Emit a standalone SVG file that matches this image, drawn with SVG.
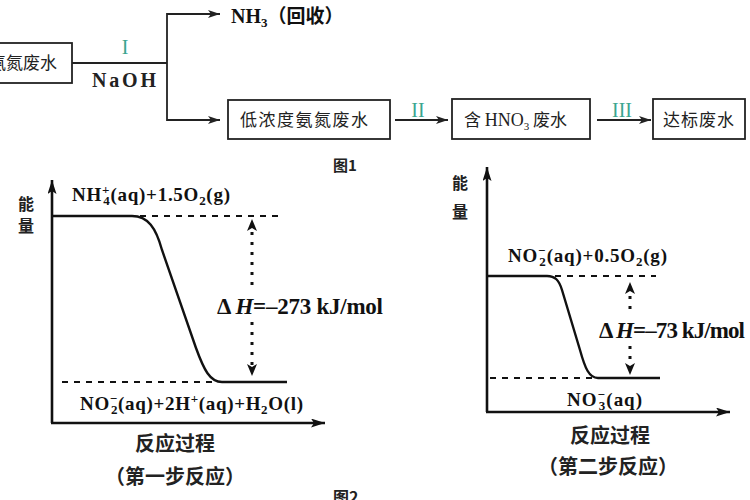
<svg xmlns="http://www.w3.org/2000/svg" width="750" height="500" viewBox="0 0 750 500">
<style>
.box{fill:#fff;stroke:#222;stroke-width:1.8}
.bt{font-family:"Noto Sans CJK SC",sans-serif;font-size:17px;fill:#222}
.ln{stroke:#222;stroke-width:1.8;fill:none}
.rn{font-family:"Liberation Serif",serif;font-size:20px;fill:#3aa58f}
.ax{stroke:#111;stroke-width:2.6;fill:none}
.cv{stroke:#111;stroke-width:2.4;fill:none}
.dash{stroke:#111;stroke-width:2;stroke-dasharray:6 6;fill:none}
.dot{stroke:#111;stroke-width:3;stroke-dasharray:3 7;fill:none}
.ch{font-family:"Liberation Serif",serif;font-weight:bold;font-size:19px;fill:#111}
.dh{font-family:"Liberation Serif",serif;font-weight:bold;font-size:23px;fill:#111}
.cn{font-family:"Noto Sans CJK SC",sans-serif;font-weight:bold;font-size:20px;fill:#222}
.cs{font-family:"Noto Sans CJK SC",sans-serif;font-weight:bold;font-size:16px;fill:#222}
.sub{font-size:13px}
</style>
<defs>
<marker id="ah" viewBox="0 0 12 8" refX="12" refY="4" markerWidth="12" markerHeight="8" markerUnits="userSpaceOnUse" orient="auto">
<path d="M0,0 L12,4 L0,8 L3,4 Z" fill="#222"/>
</marker>
<marker id="axh" viewBox="0 0 14 9" refX="14" refY="4.5" markerWidth="14" markerHeight="9" markerUnits="userSpaceOnUse" orient="auto">
<path d="M0,0 L14,4.5 L0,9 L3,4.5 Z" fill="#111"/>
</marker>
</defs>

<!-- Figure 1 nodes -->
<g id="n-start">
<rect class="box" x="-10" y="43" width="82" height="40"/>
<text class="bt" x="-11" y="69">氨氮废水</text>
</g>
<g id="n-nh3">
<text x="231" y="23" font-family="Liberation Serif,serif" font-weight="bold" font-size="20" fill="#111">NH<tspan font-size="13" dy="4">3</tspan><tspan dy="-4" font-family="Noto Sans CJK SC,sans-serif" font-size="19">（回收）</tspan></text>
</g>
<g id="n-low">
<rect class="box" x="228" y="100" width="162" height="39"/>
<text class="bt" x="240" y="126" letter-spacing="1.5">低浓度氨氮废水</text>
</g>
<g id="n-hno3">
<rect class="box" x="452" y="99" width="138" height="40"/>
<text class="bt" x="464" y="126">含 <tspan font-family="Liberation Serif,serif" font-size="18">HNO<tspan font-size="11" dy="4">3</tspan></tspan><tspan dy="-4"> 废水</tspan></text>
</g>
<g id="n-ok">
<rect class="box" x="653" y="99" width="92" height="40"/>
<text class="bt" x="663" y="126" font-size="18" letter-spacing="1">达标废水</text>
</g>

<!-- Figure 1 connectors -->
<g id="connectors">
<path class="ln" d="M72,63 H167"/>
<path class="ln" d="M167,63 V14 H220" marker-end="url(#ah)"/>
<path class="ln" d="M167,63 V120 H220" marker-end="url(#ah)"/>
<path class="ln" d="M395,120 H448" marker-end="url(#ah)"/>
<path class="ln" d="M597,120 H651" marker-end="url(#ah)"/>
<text class="rn" x="125" y="54" text-anchor="middle">I</text>
<text x="124" y="87" text-anchor="middle" font-family="Liberation Serif,serif" font-size="20" font-weight="bold" fill="#222" textLength="64" lengthAdjust="spacing">NaOH</text>
<text class="rn" x="418" y="117" text-anchor="middle">II</text>
<text class="rn" x="622" y="117" text-anchor="middle">III</text>
</g>
<text x="333" y="171" font-family="Noto Sans CJK SC,sans-serif" font-size="15" font-weight="bold" fill="#222">图1</text>

<!-- Figure 2 left: step 1 -->
<g id="chart1">
<path class="ax" d="M52,423 V180" marker-end="url(#axh)"/>
<path class="ax" d="M51,423 H325" marker-end="url(#axh)"/>
<text class="cs" x="18" y="210">能</text>
<text class="cs" x="18" y="232">量</text>
<path class="cv" d="M52,216 H132 C148,216 156,228 162,250 L196,348 C204,370 210,382 222,382 H287"/>
<path class="dash" d="M140,216 H278"/>
<path class="dash" d="M62,382 H216"/>
<path class="dot" d="M252,232 V286"/>
<path class="dot" d="M252,322 V366"/>
<path d="M252,219 L247,231 L252,228 L257,231 Z" fill="#111"/>
<path d="M252,376 L247,364 L252,367 L257,364 Z" fill="#111"/>
<text class="ch" x="72" y="201" textLength="158" lengthAdjust="spacing">NH<tspan class="sub" style="baseline-shift:7px">+</tspan><tspan class="sub" dx="-7" style="baseline-shift:-4px">4</tspan>(aq)+1.5O<tspan class="sub" style="baseline-shift:-4px">2</tspan>(g)</text>
<text class="dh" x="217" y="314" textLength="166" lengthAdjust="spacing">Δ <tspan font-style="italic">H</tspan>=–273 kJ/mol</text>
<text class="ch" x="80" y="410" textLength="223" lengthAdjust="spacing">NO<tspan class="sub" style="baseline-shift:7px">−</tspan><tspan class="sub" dx="-7" style="baseline-shift:-4px">2</tspan>(aq)+2H<tspan class="sub" style="baseline-shift:7px">+</tspan>(aq)+H<tspan class="sub" style="baseline-shift:-4px">2</tspan>O(l)</text>
<text class="cn" x="175" y="451" text-anchor="middle">反应过程</text>
<text class="cn" x="175" y="484" text-anchor="middle">（第一步反应）</text>
</g>
<text x="333" y="503" font-family="Noto Sans CJK SC,sans-serif" font-size="16" font-weight="bold" fill="#222">图2</text>

<!-- Figure 2 right: step 2 -->
<g id="chart2">
<path class="ax" d="M487,412 V167" marker-end="url(#axh)"/>
<path class="ax" d="M486,412 H730" marker-end="url(#axh)"/>
<text class="cs" x="452" y="189">能</text>
<text class="cs" x="452" y="218">量</text>
<path class="cv" d="M487,276 H547 C555,276 559,280 562,290 L580,350 C585,368 589,378 598,378 H660"/>
<path class="dash" d="M555,276 H656"/>
<path class="dash" d="M490,378 H592"/>
<path class="dot" d="M630,296 V314"/>
<path class="dot" d="M630,346 V362"/>
<path d="M630,282 L625,294 L630,291 L635,294 Z" fill="#111"/>
<path d="M630,375 L625,363 L630,366 L635,363 Z" fill="#111"/>
<text class="ch" x="508" y="262" textLength="159" lengthAdjust="spacing">NO<tspan class="sub" style="baseline-shift:7px">−</tspan><tspan class="sub" dx="-7" style="baseline-shift:-4px">2</tspan>(aq)+0.5O<tspan class="sub" style="baseline-shift:-4px">2</tspan>(g)</text>
<text class="dh" x="599" y="338" textLength="146" lengthAdjust="spacing">Δ <tspan font-style="italic">H</tspan>=–73 kJ/mol</text>
<text class="ch" x="567" y="406" textLength="75" lengthAdjust="spacing">NO<tspan class="sub" style="baseline-shift:7px">−</tspan><tspan class="sub" dx="-7" style="baseline-shift:-4px">3</tspan>(aq)</text>
<text class="cn" x="610" y="443" text-anchor="middle">反应过程</text>
<text class="cn" x="608" y="474" text-anchor="middle">（第二步反应）</text>
</g>
</svg>
